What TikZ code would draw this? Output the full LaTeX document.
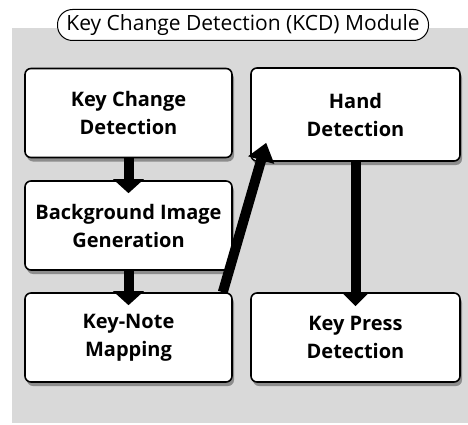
\documentclass[tikz,border=0pt]{standalone}
\usepackage{fontspec}
\setmainfont{Open Sans}
\usetikzlibrary{arrows.meta,shadows,calc}
\definecolor{bggray}{HTML}{D9D9D9}
\tikzset{
  procbox/.style={draw=black, line width=1.6pt, fill=white, rounded corners=6pt,
    minimum width=207pt, minimum height=89pt, align=center,
    font=\fontsize{20}{28}\selectfont\bfseries,
    drop shadow={shadow xshift=2pt, shadow yshift=-4pt, opacity=0.35, fill=black}},
  flow/.style={line width=10pt, -{Triangle[width=30pt,length=14pt]}},
}
\begin{document}
\begin{tikzpicture}[x=1pt,y=-1pt]
\useasboundingbox (0,0) rectangle (468,425);
\fill[bggray] (12,28) rectangle (468,423);
\node[draw=black, line width=1pt, fill=white, rounded corners=15pt, minimum width=371pt, minimum height=31pt, inner sep=0pt, font=\fontsize{21}{24}\selectfont] (title) at (243,25) {Key Change Detection (KCD) Module};
\node[procbox] (kcd) at (128.5,113) {Key Change\\Detection};
\node[procbox, minimum width=209pt, minimum height=93pt] (hand) at (355.5,114.5) {Hand\\Detection};
\node[procbox] (bg) at (128.5,225.5) {Background Image\\Generation};
\node[procbox] (knm) at (128.5,337.5) {Key-Note\\Mapping};
\node[procbox, minimum width=209pt] (kpd) at (355.5,337.5) {Key Press\\Detection};
\draw[flow] (kcd.south) -- ([yshift=-13pt]bg.north);
\draw[flow] (bg.south) -- ([yshift=-13pt]knm.north);
\draw[flow, -{Triangle[width=27pt,length=14pt]}] (hand.south) -- ([yshift=-14pt]kpd.north);
\coordinate (dstart) at ([xshift=-10pt]knm.north east);
\coordinate (dend) at ([xshift=16pt,yshift=19pt]hand.south west);
\draw[flow, -{Triangle[width=26pt,length=18pt]}] (dstart) -- (dend);
\end{tikzpicture}
\end{document}
